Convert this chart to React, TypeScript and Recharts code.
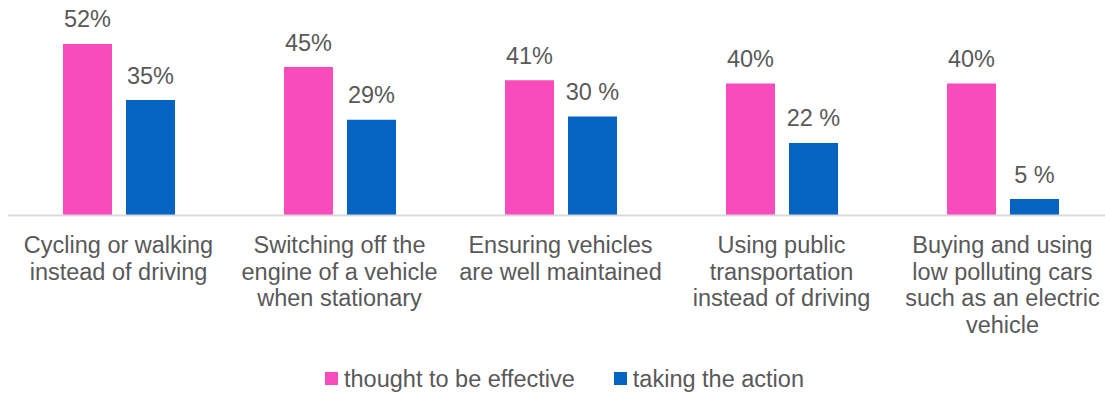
import React from "react";
import { BarChart, Bar, XAxis, YAxis, LabelList, Legend } from "recharts";

const categories = [
  "Cycling or walking\ninstead of driving",
  "Switching off the\nengine of a vehicle\nwhen stationary",
  "Ensuring vehicles\nare well maintained",
  "Using public\ntransportation\ninstead of driving",
  "Buying and using\nlow polluting cars\nsuch as an electric\nvehicle",
];
const thoughtEffective = [52, 45, 41, 40, 40];
const takingAction = [35, 29, 30, 22, 5];
const thoughtLabels = ["52%", "45%", "41%", "40%", "40%"];
const actionLabels = ["35%", "29%", "30 %", "22 %", "5 %"];
const seriesNames = ["thought to be effective", "taking the action"];
const seriesColors = ["#F94CBC", "#0563C1"];

const data = categories.map((c, i) => ({
  category: c,
  effective: thoughtEffective[i],
  action: takingAction[i],
  effectiveLabel: thoughtLabels[i],
  actionLabel: actionLabels[i],
}));

const FONT = "'Liberation Sans', Arial, sans-serif";
const TEXT = "#595959";
const FS = 23.5;

const CategoryTick = (props: any) => {
  const { x, y, payload } = props;
  const lines = String(payload.value).split("\n");
  return (
    <text x={x} y={y} textAnchor="middle" fontFamily={FONT} fontSize={FS} fill={TEXT}>
      {lines.map((l, i) => (
        <tspan key={i} x={x} y={y + 37.5 + i * 26.5}>
          {l}
        </tspan>
      ))}
    </text>
  );
};

const makeValueLabel = (key: string) => (props: any) => {
  const { x, y, width, index } = props;
  const txt = data[index][key];
  return (
    <text
      x={Number(x) + Number(width) / 2}
      y={Number(y) - 16.5}
      textAnchor="middle"
      fontFamily={FONT}
      fontSize={FS}
      fill={TEXT}
    >
      {txt}
    </text>
  );
};

const LegendContent = () => (
  <div
    style={{
      display: "flex",
      justifyContent: "center",
      alignItems: "center",
      height: 26,
      fontFamily: FONT,
      fontSize: FS,
      color: TEXT,
      paddingLeft: 8,
    }}
  >
    {seriesNames.map((n, i) => (
      <div key={n} style={{ display: "flex", alignItems: "center", marginLeft: i ? 39 : 0 }}>
        <span style={{ width: 13, height: 13, background: seriesColors[i], display: "inline-block", marginRight: 6 }} />
        <span style={{ lineHeight: "26px" }}>{n}</span>
      </div>
    ))}
  </div>
);

export default function App() {
  return (
    <div
      style={{
        position: "fixed",
        left: 0,
        top: 0,
        width: 1105,
        height: 394,
        overflow: "hidden",
        background: "#fff",
      }}
    >
      <div style={{ position: "absolute", left: 8, top: 0, width: 1105, height: 394 }}>
        <BarChart
          width={1105}
          height={394}
          data={data}
          margin={{ top: 17.5, right: 0, bottom: 2.2, left: 0 }}
          barCategoryGap={54.5}
          barGap={14}
        >
          <XAxis
            dataKey="category"
            axisLine={{ stroke: "#D9D9D9", strokeWidth: 2 }}
            tickLine={false}
            tickSize={0}
            tickMargin={0}
            height={150.3}
            interval={0}
            tick={<CategoryTick />}
          />
          <YAxis hide domain={[0, 60]} />
          <Legend verticalAlign="bottom" height={26} content={<LegendContent />} />
          <Bar dataKey="effective" name={seriesNames[0]} fill={seriesColors[0]} barSize={49} isAnimationActive={false}>
            <LabelList dataKey="effective" content={makeValueLabel("effectiveLabel")} />
          </Bar>
          <Bar dataKey="action" name={seriesNames[1]} fill={seriesColors[1]} barSize={49} isAnimationActive={false}>
            <LabelList dataKey="action" content={makeValueLabel("actionLabel")} />
          </Bar>
        </BarChart>
      </div>
    </div>
  );
}
